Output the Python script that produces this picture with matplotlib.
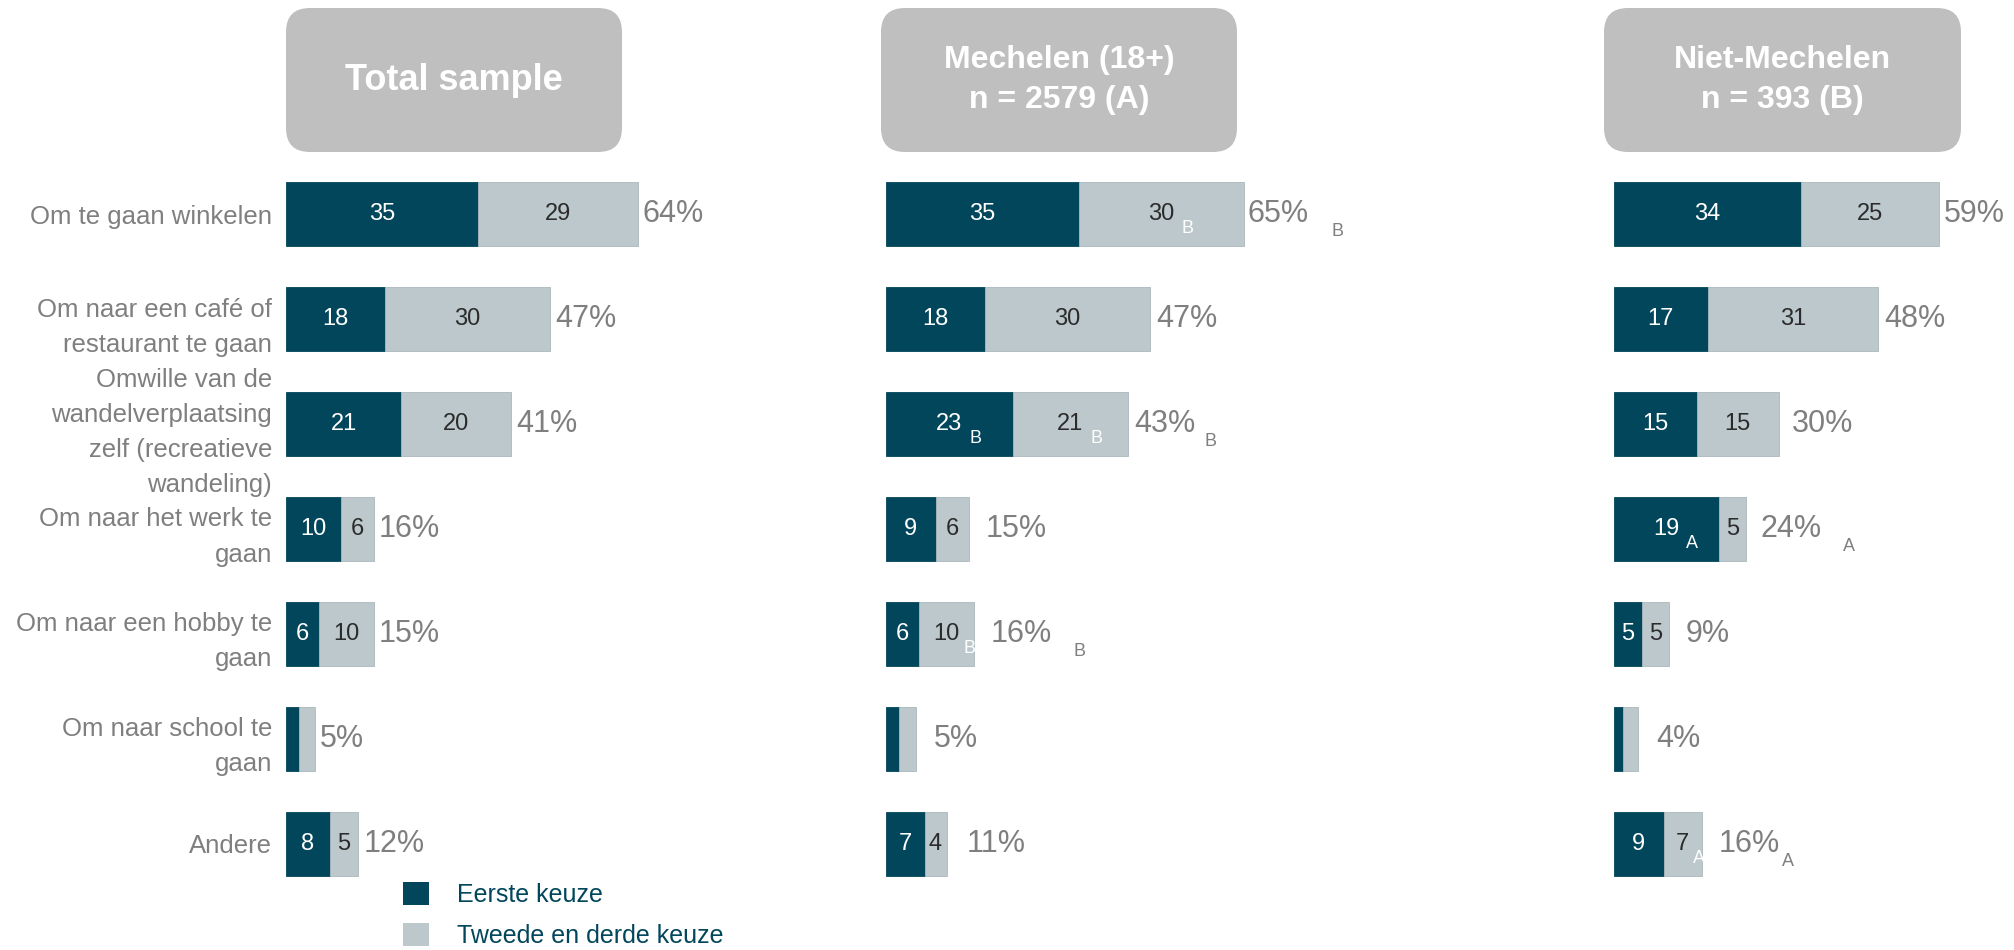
import matplotlib
matplotlib.use("Agg")
import matplotlib.pyplot as plt
from matplotlib.patches import FancyBboxPatch, Patch

plt.rcParams["font.family"] = ["Liberation Sans", "DejaVu Sans"]

# ---- data ----
categories = [
    "Om te gaan winkelen",
    "Om naar een café of\nrestaurant te gaan",
    "Omwille van de\nwandelverplaatsing\nzelf (recreatieve\nwandeling)",
    "Om naar het werk te\ngaan",
    "Om naar een hobby te\ngaan",
    "Om naar school te\ngaan",
    "Andere",
]
panel_titles = ["Total sample", "Mechelen (18+)\nn = 2579 (A)", "Niet-Mechelen\nn = 393 (B)"]
series_names = ["Eerste keuze", "Tweede en derde keuze"]

total_first = [35, 18, 21, 10, 6, 2.3, 8]
total_second = [29, 30, 20, 6, 10, 3.0, 5]
total_sum = [64, 47, 41, 16, 15, 5, 12]

mech_first = [35, 18, 23, 9, 6, 2.4, 7]
mech_second = [30, 30, 21, 6, 10, 3.1, 4]
mech_sum = [65, 47, 43, 15, 16, 5, 11]
mech_sig_first = ["", "", "B", "", "", "", ""]
mech_sig_second = ["B", "", "B", "", "B", "", ""]
mech_sig_sum = ["B", "", "B", "", "B", "", ""]

niet_first = [34, 17, 15, 19, 5, 1.6, 9]
niet_second = [25, 31, 15, 5, 5, 2.8, 7]
niet_sum = [59, 48, 30, 24, 9, 4, 16]
niet_sig_first = ["", "", "", "A", "", "", ""]
niet_sig_second = ["", "", "", "", "", "", "A"]
niet_sig_sum = ["", "", "", "A", "", "", "A"]

none_sig = [""] * 7

# ---- layout (pixels of the 2014x950 output) ----
W, H = 2014, 950
DARK = "#02465B"
LIGHT = "#BCC8CC"
GREY = "#7F7F7F"
PX_PER_UNIT = 5.5
XMAX = 70
ROW_TOP, ROW_BOTTOM = 162, 896
panel_left = [286, 886, 1614]
header_boxes = [(286, 8, 336, 144), (881, 8, 356, 144), (1604, 8, 357, 144)]
header_sizes = [26, 23, 23]
# gap (px) between bar end and the total label, per row
label_gaps = [
    [5, 5, 5, 5, 5, 5, 6],
    [4, 6, 6, 17, 17, 18, 20],
    [5, 6, 13, 14, 17, 18, 17],
]
# gap (px) between total label and its significance letter
letter_gaps = [
    [0] * 7,
    [23, 0, 9, 0, 21, 0, 0],
    [0, 0, 0, 22, 0, 0, 2],
]

panels = [
    (total_first, total_second, total_sum, none_sig, none_sig, none_sig),
    (mech_first, mech_second, mech_sum, mech_sig_first, mech_sig_second, mech_sig_sum),
    (niet_first, niet_second, niet_sum, niet_sig_first, niet_sig_second, niet_sig_sum),
]

fig = plt.figure(figsize=(W / 100, H / 100), dpi=100)

# overlay in pixel coordinates for the header boxes
bg = fig.add_axes([0, 0, 1, 1], zorder=0)
bg.set_xlim(0, W)
bg.set_ylim(H, 0)
bg.axis("off")
for (x, y, w, h), title, fs in zip(header_boxes, panel_titles, header_sizes):
    bg.add_patch(FancyBboxPatch((x, y), w, h, boxstyle="round,pad=0,rounding_size=24",
                                facecolor="#BFBFBF", edgecolor="none"))
    bg.text(x + w / 2, y + h / 2, title, ha="center", va="center", color="white",
            fontsize=fs, weight="bold", linespacing=1.42)


def put_letter(ax, anchor, letter, color, dx=7, dy=-12, size=13):
    ax.annotate(letter, xy=(1, 0), xycoords=anchor, xytext=(dx, dy),
                textcoords="offset pixels", ha="left", va="bottom",
                fontsize=size, color=color)


ypos = list(range(len(categories)))
for i, (first, second, sums, sf, ss, st) in enumerate(panels):
    left = panel_left[i] / W
    bottom = 1 - ROW_BOTTOM / H
    ax = fig.add_axes([left, bottom, XMAX * PX_PER_UNIT / W, (ROW_BOTTOM - ROW_TOP) / H], zorder=1)
    ax.patch.set_alpha(0)
    ax.set_xlim(0, XMAX)
    ax.set_ylim(len(categories) - 0.5, -0.5)
    for s in ax.spines.values():
        s.set_visible(False)
    ax.set_xticks([])
    if i == 0:
        ax.set_yticks(ypos, categories)
        ax.tick_params(axis="y", length=0, pad=10, labelsize=18.5, labelcolor=GREY)
        for lab in ax.get_yticklabels():
            lab.set_linespacing(1.58)
    else:
        ax.set_yticks([])

    ax.barh(ypos, first, height=0.61, color=DARK, edgecolor=DARK, linewidth=0.6,
            label=series_names[0])
    ax.barh(ypos, second, left=first, height=0.61, color=LIGHT, edgecolor="#AAB8BC",
            linewidth=0.6, label=series_names[1])

    for r in ypos:
        a, b = first[r], second[r]
        if a >= 4:
            t = ax.text(a / 2, r, f"{a:g}", ha="center", va="center", fontsize=17, color="white")
            if sf[r]:
                put_letter(ax, t, sf[r], "white")
        if b >= 4:
            t = ax.text(a + b / 2, r, f"{b:g}", ha="center", va="center", fontsize=17, color="#2B2B2B")
            if ss[r]:
                put_letter(ax, t, ss[r], "white", dx=4 if b < 12 else 7)
        gap = label_gaps[i][r] / PX_PER_UNIT
        t = ax.text(a + b + gap, r, f"{sums[r]}%", ha="left", va="center", fontsize=22, color=GREY)
        if st[r]:
            put_letter(ax, t, st[r], GREY, dx=letter_gaps[i][r], dy=-11)

fig.legend(
    handles=[Patch(facecolor=DARK), Patch(facecolor=LIGHT)],
    labels=series_names,
    loc="upper left",
    bbox_to_anchor=(403 / W, 1 - 882 / H),
    bbox_transform=fig.transFigure,
    frameon=False,
    fontsize=18,
    labelcolor=DARK,
    handlelength=1.05,
    handleheight=1.05,
    handletextpad=1.1,
    labelspacing=0.62,
    borderpad=0,
    borderaxespad=0,
)

fig.savefig("out.png", dpi=100)
